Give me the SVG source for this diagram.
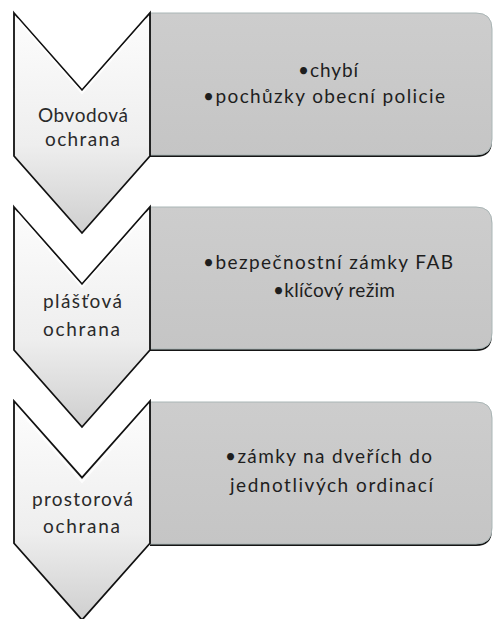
<svg xmlns="http://www.w3.org/2000/svg" width="494" height="619" viewBox="0 0 494 619">
  <defs>
    <linearGradient id="chevFill" x1="0" y1="0" x2="0" y2="1">
      <stop offset="0" stop-color="#fdfdfd"/>
      <stop offset="0.6" stop-color="#eeeeee"/>
      <stop offset="1" stop-color="#cfcfcf"/>
    </linearGradient>
    <linearGradient id="boxFill" x1="0" y1="0" x2="0" y2="1">
      <stop offset="0" stop-color="#cdcdcd"/>
      <stop offset="1" stop-color="#c5c5c5"/>
    </linearGradient>
    <!-- chevron outline, 136 wide, notch/tip depth 77 -->
    <path id="chev" d="M14,0 L82,77 L150,0 L150,143 L82,220 L14,143 Z"/>
    <!-- content box with rounded right corners, 142 tall -->
    <path id="box" d="M150,0 H476 Q492,0 492,16 V126 Q492,142 476,142 H150 Z"/>
  </defs>
  <style>
    .chev { fill: url(#chevFill); stroke: #111; stroke-width: 1.8; stroke-linejoin: miter; }
    .chevHi { fill: none; stroke: #ffffff; stroke-width: 2; opacity: 0.8; }
    .boxShadow { fill: #151515; }
    .box { fill: url(#boxFill); stroke: #aab6b6; stroke-width: 1; }
    .edge { stroke: #111; stroke-width: 2; }
    .lbl { font-family: Lato, "Open Sans", "Liberation Sans", sans-serif; font-size: 19px; fill: #2a2a2a; }
    .item { font-family: Lato, "Open Sans", "Liberation Sans", sans-serif; font-size: 19px; fill: #1e1e1e; }
  </style>

  <!-- no connectors: the chevrons themselves carry the flow -->
  <g id="connectors"/>

  <!-- step 1 -->
  <g id="box1" transform="translate(0,13)">
    <use href="#box" class="boxShadow" transform="translate(0,2)"/>
    <use href="#box" class="box"/>
    <text class="item" x="298" y="64" textLength="60" lengthAdjust="spacing">•chybí</text>
    <text class="item" x="203" y="90" textLength="242" lengthAdjust="spacing">•pochůzky obecní policie</text>
  </g>
  <g id="chevron1" transform="translate(0,13)">
    <use href="#chev" class="chev"/>
    <path d="M17,6 L82,80 L147,6" class="chevHi"/>
    <text class="lbl" x="38" y="109" textLength="90" lengthAdjust="spacing">Obvodová</text>
    <text class="lbl" x="45" y="133" textLength="75" lengthAdjust="spacing">ochrana</text>
  </g>

  <!-- step 2 -->
  <g id="box2" transform="translate(0,207)">
    <use href="#box" class="boxShadow" transform="translate(0,2)"/>
    <use href="#box" class="box"/>
    <text class="item" x="203" y="62" textLength="250" lengthAdjust="spacing">•bezpečnostní zámky FAB</text>
    <text class="item" x="273" y="90" textLength="122" lengthAdjust="spacing">•klíčový režim</text>
  </g>
  <g id="chevron2" transform="translate(0,207)">
    <use href="#chev" class="chev"/>
    <path d="M17,6 L82,80 L147,6" class="chevHi"/>
    <text class="lbl" x="43" y="101" textLength="79" lengthAdjust="spacing">plášťová</text>
    <text class="lbl" x="43" y="129" textLength="77" lengthAdjust="spacing">ochrana</text>
  </g>

  <!-- step 3 -->
  <g id="box3" transform="translate(0,402)">
    <use href="#box" class="boxShadow" transform="translate(0,2)"/>
    <use href="#box" class="box"/>
    <text class="item" x="225" y="61" textLength="207" lengthAdjust="spacing">•zámky na dveřích do</text>
    <text class="item" x="230" y="90" textLength="203" lengthAdjust="spacing">jednotlivých ordinací</text>
  </g>
  <g id="chevron3" transform="translate(0,402)">
    <use href="#chev" class="chev" transform="translate(0,-1) scale(1,0.995)"/>
    <path d="M17,6 L82,80 L147,6" class="chevHi"/>
    <text class="lbl" x="32" y="104" textLength="101" lengthAdjust="spacing">prostorová</text>
    <text class="lbl" x="43" y="131" textLength="77" lengthAdjust="spacing">ochrana</text>
  </g>
</svg>
